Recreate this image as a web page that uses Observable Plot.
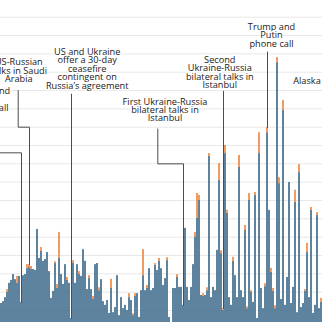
<!DOCTYPE html>
<html><head><meta charset="utf-8">
<script src="https://cdn.jsdelivr.net/npm/d3@7"></script>
<script src="https://cdn.jsdelivr.net/npm/@observablehq/plot@0.6"></script>
<style>
html,body{margin:0;padding:0;background:#fff;overflow:hidden}
#chart{width:322px;height:322px;overflow:hidden;position:relative}
#chart svg{display:block}
</style>
</head><body><div id="chart"></div>
<script>
// Daily launches (blue = drones, orange = missiles), one bar per day
const drones = [69,74,85,99,124,132,148,134,124,143,
72,145,148,164,167,162,162,159,271,192,
211,184,189,208,156,83,102,178,110,192,
148,121,175,132,124,28,178,124,175,148,
143,216,184,107,137,107,80,175,178,104,
134,74,64,77,42,110,44,58,145,36,
85,55,64,50,85,77,36,88,96,31,
104,145,104,110,164,104,110,173,159,184,
164,118,137,186,31,6,110,110,140,113,
113,64,274,113,77,113,175,249,301,350,
91,88,91,104,470,85,113,104,214,405,
205,50,478,315,85,64,184,145,85,440,
104,85,268,55,350,99,72,364,28,478,
110,55,115,535,323,154,102,55,726,396,
80,596,64,140,399,69,113,345,44,426,
58,69,102,208,85,323,42,64,309,55,
72];
const missiles = [0,0,0,8,0,0,0,0,19,0,
0,0,0,11,8,8,0,0,0,0,
11,0,0,0,0,0,0,5,11,71,
0,0,0,8,0,0,8,0,0,8,
0,0,0,0,8,0,8,0,0,8,
0,0,0,0,0,25,0,0,0,0,
0,0,0,0,11,0,5,8,0,0,
0,71,0,8,0,0,0,5,0,8,
0,0,0,8,0,0,0,0,8,0,
0,0,0,0,0,0,0,14,68,14,
0,8,0,8,8,0,0,0,0,46,
8,5,22,8,0,0,11,0,0,33,
0,0,14,5,19,5,0,8,0,57,
0,0,8,14,0,11,8,8,14,16,
0,27,0,0,0,0,0,33,0,22,
0,0,5,25,0,8,0,0,8,0,
11];
const seriesNames = ["Drones", "Missiles"];
const gridValues = [0,50,100,150,200,250,300,350,400,450,500,550,600,650,700,750,800,850];

// Annotations
const labels = [
  "Trump and\nPutin\nphone call",
  "US-Russian\ntalks in Saudi\nArabia",
  "US and Ukraine\noffer a 30-day\nceasefire\ncontingent on\nRussia’s agreement",
  "First Ukraine-Russia\nbilateral talks in\nIstanbul",
  "Second\nUkraine-Russia\nbilateral talks in\nIstanbul",
  "Trump and\nPutin\nphone call",
  "Alaska summit"
];
const labelDay = [-7, 9.15, 43.35, 82.25, 109.65, 135.5, 146.35];
const labelValue = [624, 703, 709, 596, 698, 800, 675];
const labelAnchor = ["middle","middle","middle","middle","middle","middle","start"];
const eventBar = [10, 14, 35, 91, 111, 133];
const leaderStart = [590, 650, 640, 545, 648, 755];
const elbowDay = [-7, 8.85, null, 78.65, null, null];
const elbowValue = [480, 550, null, 450, null, null];

const bars = [];
drones.forEach((v, i) => {
  bars.push({day: i, type: seriesNames[0], value: v});
  bars.push({day: i, type: seriesNames[1], value: missiles[i]});
});

const labelData = labels.map((t, k) => ({text: t, x: labelDay[k], y: labelValue[k], anchor: labelAnchor[k]}));

const leaders = [];
eventBar.forEach((b, k) => {
  const bx = b + 0.5;
  const top = drones[b] + missiles[b];
  if (elbowDay[k] != null) {
    leaders.push({k, x: elbowDay[k], y: leaderStart[k]});
    leaders.push({k, x: elbowDay[k], y: elbowValue[k]});
    leaders.push({k, x: bx, y: elbowValue[k]});
  } else {
    leaders.push({k, x: bx, y: leaderStart[k]});
  }
  leaders.push({k, x: bx, y: top});
});

const textStyle = {fontSize: 9.2, fontWeight: 500, fontFamily: "'Open Sans', sans-serif", fill: "#1a1a1a", stroke: "white", strokeWidth: 2.5, lineHeight: 0.92};

const chart = Plot.plot({
  width: 322,
  height: 322,
  margin: 0,
  style: {background: "white", overflow: "hidden"},
  x: {type: "linear", domain: [0, drones.length], range: [0, 322], axis: null},
  y: {type: "linear", domain: [0, 850], range: [328.3, 16.7], axis: null},
  color: {domain: seriesNames, range: ["#426e8e", "#ee8a48"]},
  marks: [
    Plot.ruleY(gridValues, {stroke: "#e8e8e8", strokeWidth: 1}),
    Plot.rectY(bars, {x: "day", interval: 1, y: "value", fill: "type", insetLeft: 0.15, insetRight: 0.15}),
    Plot.line(leaders, {x: "x", y: "y", z: "k", stroke: "#4d4d4d", strokeWidth: 1}),
    Plot.text(labelData.filter(d => d.anchor === "middle"), {x: "x", y: "y", text: "text", textAnchor: "middle", ...textStyle}),
    Plot.text(labelData.filter(d => d.anchor === "start"), {x: "x", y: "y", text: "text", textAnchor: "start", ...textStyle})
  ]
});
document.getElementById("chart").appendChild(chart);
</script>
</body></html>
